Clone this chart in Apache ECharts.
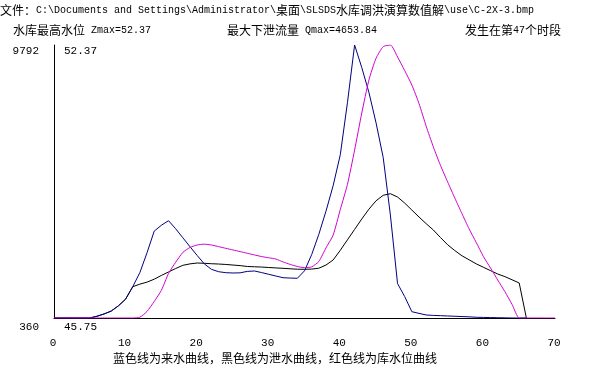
<!DOCTYPE html>
<html>
<head>
<meta charset="utf-8">
<script src="https://cdn.jsdelivr.net/npm/echarts@6/dist/echarts.min.js"></script>
<style>
html,body{margin:0;padding:0;background:#fff;}
#chart{width:609px;height:379px;}
</style>
</head>
<body>
<div id="chart"></div>
<script>
// ---- data ----
// inflow (来水), period 0..66
const inflow = [360,360,360,360,360,360,420,500,600,780,1010,1440,1930,2615,3360,3564,3722,3443,3133,2823,2521,2230,2040,1960,1925,1915,1920,1970,1984,1930,1870,1810,1752,1740,1732,1990,2550,3250,4050,4930,6000,7800,9792,9014,8154,7100,5900,3920,1550,1100,578,520,464,450,440,430,420,410,400,385,380,375,370,365,360,360,360];
// outflow (泄水), period 0..66
const outflow = [360,360,360,360,360,360,420,500,600,780,1010,1440,1530,1600,1700,1830,1950,2070,2180,2230,2260,2250,2235,2225,2210,2190,2170,2140,2130,2120,2105,2090,2077,2060,2045,2043,2050,2080,2190,2364,2700,3060,3420,3780,4120,4410,4600,4654,4540,4330,4090,3850,3620,3400,3140,2890,2690,2510,2370,2230,2112,1995,1880,1790,1680,1570,360];
// reservoir level (库水位), period 0..70
const level = [45.75,45.75,45.75,45.75,45.75,45.75,45.75,45.75,45.75,45.75,45.75,45.75,45.77,45.91,46.15,46.42,46.83,47.10,47.34,47.46,47.52,47.54,47.52,47.48,47.44,47.40,47.36,47.32,47.28,47.24,47.21,47.18,47.11,47.05,47.00,46.97,46.99,47.12,47.45,47.76,48.38,48.99,49.82,50.72,51.52,52.05,52.33,52.37,52.08,51.75,51.40,50.95,50.40,49.90,49.45,49.05,48.66,48.28,47.91,47.58,47.24,46.96,46.67,46.39,46.08,45.75,45.75,45.75,45.75,45.75,45.75];

const xTicks = [0,10,20,30,40,50,60,70];
const flowTicks = [360, 9792];
const levelTicks = [45.75, 52.37];

const titleText = '文件：C:\\Documents and Settings\\Administrator\\桌面\\SLSDS水库调洪演算数值解\\use\\C-2X-3.bmp';
const zmaxText = '水库最高水位 Zmax=52.37';
const qmaxText = '最大下泄流量 Qmax=4653.84';
const periodText = '发生在第47个时段';
const legendText = '蓝色线为来水曲线，黑色线为泄水曲线，红色线为库水位曲线';

// ---- helpers ----
function richify(s){
  const runs = s.match(/[\u0000-\u007f]+|[^\u0000-\u007f]+/g) || [];
  return runs.map(r => (/^[\u0000-\u007f]/.test(r) ? '{a|' : '{c|') + r + '}').join('');
}
const richStyles = {
  a: {fontFamily: 'Liberation Mono', fontSize: 10, lineHeight: 14, fill: '#000', color: '#000'},
  c: {fontFamily: '"Noto Sans CJK SC"', fontSize: 12, lineHeight: 14, fill: '#000', color: '#000'}
};
function textEl(str, x, y){
  return {type: 'text', x: x, y: y, silent: true,
    style: {text: richify(str), rich: richStyles, verticalAlign: 'middle', align: 'left', fill: '#000'}};
}
const pairs = arr => arr.map((v, i) => [i, v]);

const chart = echarts.init(document.getElementById('chart'), null, {renderer: 'canvas'});
chart.setOption({
  animation: false,
  backgroundColor: '#fff',
  grid: {left: 54, right: 54, top: 45, bottom: 61, containLabel: false, outerBoundsMode: 'none'},
  xAxis: {
    type: 'value', min: 0, max: 70, interval: 10,
    axisLine: {show: true, lineStyle: {color: '#000', width: 1}},
    axisTick: {show: false},
    splitLine: {show: false},
    axisLabel: {
      customValues: xTicks,
      margin: 19, color: '#000', fontFamily: 'Liberation Mono', fontSize: 11,
      lineHeight: 13, padding: [0, 2, 0, 0]
    }
  },
  yAxis: [
    {
      type: 'value', min: flowTicks[0], max: flowTicks[1],
      position: 'left',
      axisLine: {show: true, lineStyle: {color: '#000', width: 1}},
      axisTick: {show: false},
      splitLine: {show: false},
      axisLabel: {
        customValues: flowTicks,
        margin: 15, align: 'right', verticalAlign: 'top',
        formatter: v => (v === flowTicks[1] ? '{t|' : '{b|') + v + '}',
        rich: {
          t: {fontFamily: 'Liberation Mono', fontSize: 11, lineHeight: 13, color: '#000'},
          b: {fontFamily: 'Liberation Mono', fontSize: 11, lineHeight: 19, color: '#000'}
        }
      }
    },
    {
      type: 'value', min: levelTicks[0], max: levelTicks[1],
      position: 'left', offset: 0,
      axisLine: {show: false},
      axisTick: {show: false},
      splitLine: {show: false},
      axisLabel: {
        inside: true,
        customValues: levelTicks,
        margin: 10, align: 'left', verticalAlign: 'top',
        formatter: v => (v === levelTicks[1] ? '{t|' : '{b|') + v.toFixed(2) + '}',
        rich: {
          t: {fontFamily: 'Liberation Mono', fontSize: 11, lineHeight: 13, color: '#000'},
          b: {fontFamily: 'Liberation Mono', fontSize: 11, lineHeight: 19, color: '#000'}
        }
      }
    }
  ],
  series: [
    {
      name: '泄水', type: 'line', yAxisIndex: 0, data: pairs(outflow),
      symbol: 'none', lineStyle: {color: '#000000', width: 1}, z: 2
    },
    {
      name: '来水', type: 'line', yAxisIndex: 0, data: pairs(inflow),
      symbol: 'none', lineStyle: {color: '#000080', width: 1}, z: 3
    },
    {
      name: '库水位', type: 'line', yAxisIndex: 1, data: pairs(level),
      symbol: 'none', smooth: 0.2, lineStyle: {color: '#d000d0', width: 1}, z: 4
    }
  ],
  graphic: [
    textEl(titleText, 0, 10),
    textEl(zmaxText, 13, 30),
    textEl(qmaxText, 227, 30),
    textEl(periodText, 465, 30),
    textEl(legendText, 113, 358)
  ]
});
</script>
</body>
</html>
